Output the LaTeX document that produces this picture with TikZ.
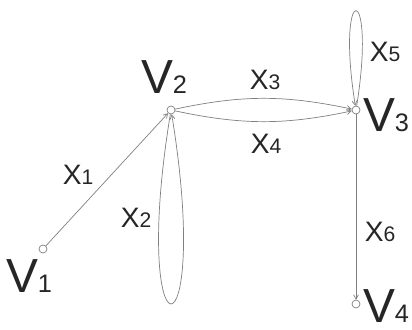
\documentclass[tikz,border=0pt]{standalone}
\usepackage{fontspec}
\setmainfont{Liberation Sans}
\usetikzlibrary{arrows.meta}
\newcommand{\vlab}[1]{\fontsize{34}{34}\selectfont V{\fontsize{18}{18}\selectfont #1}}
\newcommand{\xlab}[1]{\fontsize{20}{20}\selectfont X{\fontsize{15}{15}\selectfont #1}}
\begin{document}
\begin{tikzpicture}[x=0.025cm, y=0.025cm, line join=round, line cap=round,
	>={Straight Barb[length=3pt,width=3.5pt]},
	vert/.style={circle, draw=gray, fill=white, line width=0.5pt, inner sep=0pt, minimum size=2mm},
	edge/.style={draw=gray, line width=0.5pt, ->},
	lbl/.style={inner sep=0pt, text=black!85}]
	\useasboundingbox (0,0) rectangle (412,329);
	\node[vert] (V1) at (43,80) {};
	\node[vert] (V2) at (171,219) {};
	\node[vert] (V3) at (356,219) {};
	\node[vert] (V4) at (356,25) {};
	% arcs
	\draw[edge] (V1) -- (V2);
	\draw[edge] (V2) .. controls (129,-38) and (213,-38) .. (V2);
	\draw[edge] (V2) to[bend left=12] (V3);
	\draw[edge] (V2) to[bend right=12] (V3);
	\draw[edge] (V3) .. controls (377,350) and (335,350) .. (V3);
	\draw[edge] (V3) -- (V4);
	% vertex labels
	\foreach \v/\p in {1/{29,53},2/{164,252},3/{386,214}}
	\node[lbl] (L\v) at (\p) {\vlab{\v}};
	\node[lbl, anchor=south] (L4) at (386,6) {\vlab{4}};
	% arc labels
	\foreach \x/\p in {1/{78,154},2/{136,111},3/{265,249},4/{266,185},5/{385,277},6/{380,97}}
	\node[lbl] (X\x) at (\p) {\xlab{\x}};
\end{tikzpicture}
\end{document}
